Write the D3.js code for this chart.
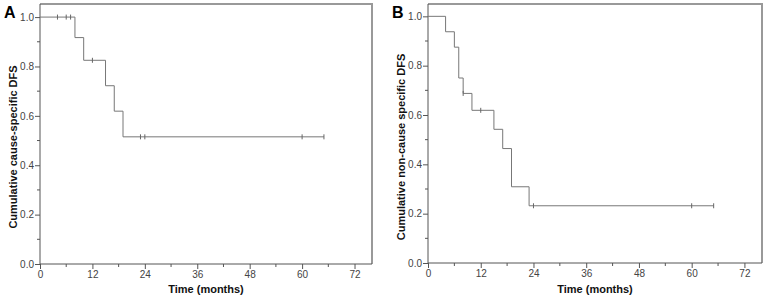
<!DOCTYPE html>
<html>
<head>
<meta charset="utf-8">
<script src="https://cdn.jsdelivr.net/npm/d3@7"></script>
<style>
  html, body { margin: 0; padding: 0; background: #fff; }
  svg { display: block; font-family: "Liberation Sans", Arial, sans-serif; }
</style>
</head>
<body>
<svg id="chart" width="765" height="301"></svg>
<script>
// Panel A: cumulative cause-specific DFS (step curve + censor marks)
const aTimes = [0, 8, 10, 15, 17, 19, 65];
const aSurv = [1, 0.917, 0.825, 0.722, 0.619, 0.515, 0.515];
const aCensorTimes = [4, 6, 7, 12, 23, 24, 60, 65];
const aCensorSurv = [1, 1, 1, 0.825, 0.515, 0.515, 0.515, 0.515];

// Panel B: cumulative non-cause specific DFS
const bTimes = [0, 4, 6, 7, 8, 10, 15, 17, 19, 23, 65];
const bSurv = [1, 0.9375, 0.875, 0.75, 0.6875, 0.619, 0.542, 0.464, 0.309, 0.232, 0.232];
const bCensorTimes = [8, 12, 24, 60, 65];
const bCensorSurv = [0.6875, 0.619, 0.232, 0.232, 0.232];

const xTicks = [0, 12, 24, 36, 48, 60, 72];
const xMinor = [6, 18, 30, 42, 54, 66];
const yTicks = [0, 0.2, 0.4, 0.6, 0.8, 1.0];
const yMinor = [0.1, 0.3, 0.5, 0.7, 0.9];

const svg = d3.select('#chart');

function drawPanel(opt) {
  const { left, right, top, bottom, letter, yTitle, times, surv, cTimes, cSurv, yMax } = opt;
  const x = d3.scaleLinear().domain([0, 76]).range([left, right]);
  const y = d3.scaleLinear().domain([0, yMax]).range([bottom, top]);
  const g = svg.append('g');

  // frame top/right
  g.append('path')
    .attr('d', `M${left},${top}H${right}V${bottom}`)
    .attr('fill', 'none').attr('stroke', '#999').attr('stroke-width', 2);

  // axes
  const yAxis = g.append('g').attr('transform', `translate(${left},0)`)
    .call(d3.axisLeft(y).tickValues(yTicks).tickFormat(d3.format('.1f')).tickSize(5).tickPadding(1).tickSizeOuter(0));
  const xAxis = g.append('g').attr('transform', `translate(0,${bottom})`)
    .call(d3.axisBottom(x).tickValues(xTicks).tickSize(5).tickPadding(2).tickSizeOuter(0));
  [yAxis, xAxis].forEach(ax => {
    ax.select('.domain').attr('stroke', '#555');
    ax.selectAll('.tick line').attr('stroke', '#555');
    ax.selectAll('.tick text').attr('fill', '#444').attr('font-size', 10)
      .attr('font-family', '"Liberation Sans", Arial, sans-serif');
  });
  xAxis.select('.domain').attr('d', `M${left},0H${right}`);
  yAxis.select('.domain').attr('d', `M0,${bottom}V${top}`);

  // minor ticks
  g.selectAll('.xminor').data(xMinor).enter().append('line')
    .attr('x1', d => x(d)).attr('x2', d => x(d))
    .attr('y1', bottom).attr('y2', bottom + 3)
    .attr('stroke', '#555');
  g.selectAll('.yminor').data(yMinor).enter().append('line')
    .attr('x1', left - 3).attr('x2', left)
    .attr('y1', d => y(d)).attr('y2', d => y(d))
    .attr('stroke', '#555');

  // step curve
  const pts = times.map((t, i) => [t, surv[i]]);
  g.append('path').datum(pts)
    .attr('d', d3.line().x(d => x(d[0])).y(d => y(d[1])).curve(d3.curveStepAfter))
    .attr('fill', 'none').attr('stroke', '#777').attr('stroke-width', 1);

  // censor marks
  const cens = cTimes.map((t, i) => [t, cSurv[i]]);
  g.selectAll('.cens').data(cens).enter().append('line')
    .attr('x1', d => x(d[0])).attr('x2', d => x(d[0]))
    .attr('y1', d => y(d[1]) - 2.5).attr('y2', d => y(d[1]) + 2.5)
    .attr('stroke', '#666').attr('stroke-width', 1);

  // titles
  g.append('text')
    .attr('x', (left + right) / 2).attr('y', 293)
    .attr('text-anchor', 'middle').attr('font-size', 11).attr('font-weight', 'bold')
    .attr('fill', '#111').text('Time (months)');
  g.append('text')
    .attr('transform', `translate(${left - 23},147) rotate(-90)`)
    .attr('text-anchor', 'middle').attr('font-size', 11).attr('font-weight', 'bold')
    .attr('fill', '#111').text(yTitle);
  g.append('text')
    .attr('x', left - 36).attr('y', 18)
    .attr('font-size', 16).attr('font-weight', 'bold')
    .attr('fill', '#000').text(letter);
}

drawPanel({
  left: 40, right: 372, top: 4, bottom: 264, yMax: 1.053,
  letter: 'A', yTitle: 'Cumulative cause-specific DFS',
  times: aTimes, surv: aSurv, cTimes: aCensorTimes, cSurv: aCensorSurv,
});
drawPanel({
  left: 428, right: 762, top: 4, bottom: 263, yMax: 1.05,
  letter: 'B', yTitle: 'Cumulative non-cause specific DFS',
  times: bTimes, surv: bSurv, cTimes: bCensorTimes, cSurv: bCensorSurv,
});
</script>
</body>
</html>
